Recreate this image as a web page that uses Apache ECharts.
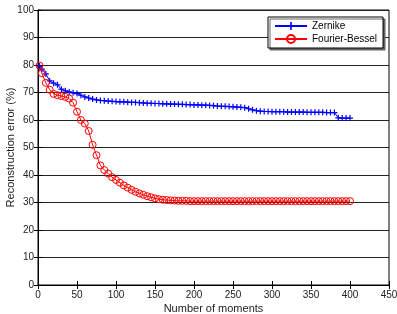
<!DOCTYPE html>
<html>
<head>
<meta charset="utf-8">
<script src="https://cdn.jsdelivr.net/npm/echarts@6/dist/echarts.min.js"></script>
<style>html,body{margin:0;padding:0;background:#fff;}#c{width:397px;height:314px;}</style>
</head>
<body>
<div id="c"></div>
<script>
var moments = [2,5,10,15,20,25,30,35,40,45,50,55,60,65,70,75,80,85,90,95,100,105,110,115,120,125,130,135,140,145,150,155,160,165,170,175,180,185,190,195,200,205,210,215,220,225,230,235,240,245,250,255,260,265,270,275,280,285,290,295,300,305,310,315,320,325,330,335,340,345,350,355,360,365,370,375,380,385,390,395,400];
var zernike = [79.6,78.5,76.8,74.2,73.4,72.8,71.2,70.6,70.2,69.9,69.6,69.0,68.4,68.0,67.6,67.3,67.1,67.0,66.9,66.8,66.7,66.6,66.6,66.5,66.4,66.4,66.3,66.2,66.1,66.1,66.0,66.0,65.9,65.9,65.8,65.8,65.7,65.7,65.6,65.6,65.5,65.5,65.4,65.4,65.3,65.2,65.1,65.0,65.0,64.9,64.8,64.7,64.6,64.5,64.1,63.7,63.4,63.2,63.1,63.1,63.0,63.0,63.0,63.0,62.9,62.9,62.9,62.9,62.9,62.8,62.8,62.8,62.8,62.8,62.7,62.7,62.7,60.8,60.7,60.7,60.7];
var fourierBessel = [79.8,77.0,73.5,71.0,69.5,69.0,68.7,68.4,67.8,66.3,63.0,60.0,58.7,56.0,51.0,47.2,43.5,41.8,40.5,39.2,38.2,37.2,36.2,35.4,34.6,33.9,33.3,32.8,32.3,31.9,31.5,31.2,31.0,30.9,30.8,30.7,30.6,30.6,30.6,30.5,30.5,30.5,30.5,30.5,30.5,30.5,30.5,30.5,30.5,30.5,30.5,30.5,30.5,30.5,30.5,30.5,30.5,30.5,30.5,30.5,30.5,30.5,30.5,30.5,30.5,30.5,30.5,30.5,30.5,30.5,30.5,30.5,30.5,30.5,30.5,30.5,30.5,30.5,30.5,30.5,30.5];
var seriesNames = ['Zernike','Fourier-Bessel'];
var xTitle = 'Number of moments';
var yTitle = 'Reconstruction error (%)';

function pairs(ys){ return moments.map(function(x,i){ return [x, ys[i]]; }); }

var font = 'Liberation Sans, Arial, sans-serif';
var chart = echarts.init(document.getElementById('c'), null, {renderer:'canvas'});
var plusPath = 'path://M4,0H6V4H10V6H6V10H4V6H0V4H4Z';
chart.setOption({
  animation:false,
  backgroundColor:'#fff',
  grid:{left:38,right:8,top:10,bottom:29,containLabel:false,outerBoundsMode:'none',show:true,borderColor:'#000',borderWidth:1,backgroundColor:'#fff'},
  legend:{
    left:268, top:17, orient:'vertical',
    padding:[4,6], itemGap:3, itemWidth:32, itemHeight:10,
    backgroundColor:'#fff', borderColor:'#000', borderWidth:1,
    shadowColor:'#666', shadowOffsetX:2, shadowOffsetY:2, shadowBlur:0,
    textStyle:{fontFamily:font,fontSize:10,color:'#000'},
    data:seriesNames
  },
  xAxis:[{
    type:'value', min:0, max:450, interval:50, position:'bottom',
    name:xTitle, nameLocation:'middle', nameGap:18, nameMoveOverlap:false,
    nameTextStyle:{fontFamily:font,fontSize:11,color:'#222'},
    axisLine:{show:true,lineStyle:{color:'#000',width:1}},
    axisTick:{show:true,inside:true,length:4,lineStyle:{color:'#000'}},
    axisLabel:{fontFamily:font,fontSize:10,color:'#222',margin:5},
    splitLine:{show:false}
  },{
    type:'value', min:0, max:450, interval:50, position:'top',
    axisLine:{show:true,lineStyle:{color:'#000',width:1}},
    axisTick:{show:true,inside:true,length:4,lineStyle:{color:'#000'}},
    axisLabel:{show:false}, splitLine:{show:false}
  }],
  yAxis:[{
    type:'value', min:0, max:100, interval:10, position:'left',
    name:yTitle, nameLocation:'middle', nameGap:22, nameMoveOverlap:false,
    nameTextStyle:{fontFamily:font,fontSize:11,color:'#222'},
    axisLine:{show:true,lineStyle:{color:'#000',width:1}},
    axisTick:{show:true,inside:true,length:4,lineStyle:{color:'#000'}},
    axisLabel:{fontFamily:font,fontSize:10,color:'#222',margin:4},
    splitLine:{show:true,lineStyle:{color:'#222',width:1}}
  },{
    type:'value', min:0, max:100, interval:10, position:'right',
    axisLine:{show:true,lineStyle:{color:'#000',width:1}},
    axisTick:{show:true,inside:true,length:4,lineStyle:{color:'#000'}},
    axisLabel:{show:false}, splitLine:{show:false}
  }],
  series:[{
    name:seriesNames[0], type:'line', xAxisIndex:0, yAxisIndex:0,
    data:pairs(zernike),
    symbol:plusPath, symbolSize:6, showAllSymbol:true,
    lineStyle:{color:'#0000ff',width:1},
    itemStyle:{color:'#0000ff'}
  },{
    name:seriesNames[1], type:'line', xAxisIndex:0, yAxisIndex:0,
    data:pairs(fourierBessel),
    symbol:'circle', symbolSize:7, showAllSymbol:true,
    lineStyle:{color:'#ff0000',width:1},
    itemStyle:{color:'rgba(255,255,255,0)',borderColor:'#ff0000',borderWidth:1}
  }]
});
</script>
</body>
</html>
